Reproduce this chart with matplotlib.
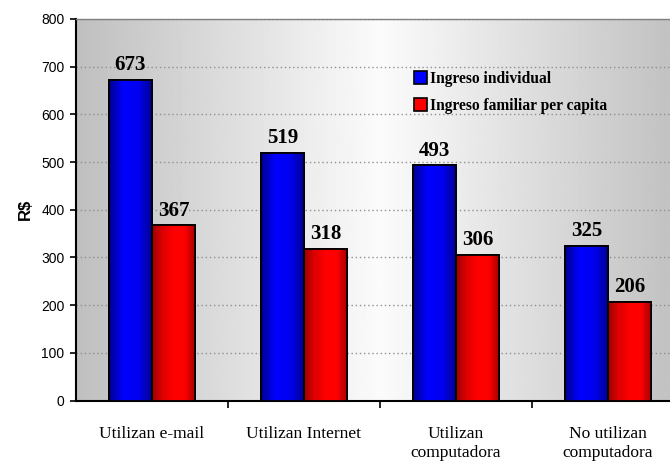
import numpy as np
import matplotlib
matplotlib.use("Agg")
import matplotlib.pyplot as plt
from matplotlib.colors import LinearSegmentedColormap
from matplotlib.patches import Patch

categories = ["Utilizan e-mail", "Utilizan Internet", "Utilizan\ncomputadora", "No utilizan\ncomputadora"]
ingreso_individual = [673, 519, 493, 325]
ingreso_familiar = [367, 318, 306, 206]
series_names = ["Ingreso individual", "Ingreso familiar per capita"]
yticks = [0, 100, 200, 300, 400, 500, 600, 700, 800]

fig = plt.figure(figsize=(6.7, 4.63), dpi=100)
ax = fig.add_axes([76/670, 1-400.5/463, 608/670, 381.5/463])

x = np.arange(len(categories))
w = 0.285

# background gradient (gray edges, white center)
t = np.linspace(-1, 1, 400)
bg = 0.985 - 0.235*np.abs(t)
bg = np.tile(bg, (2, 1))
ax.imshow(bg, extent=[-0.5, 3.5, 0, 800], aspect='auto', cmap='gray',
          vmin=0, vmax=1, zorder=0, interpolation='bilinear')

ax.set_axisbelow(True)
ax.yaxis.grid(True, linestyle=(0, (1, 2)), color='#909090', linewidth=1.0, zorder=1)

blue_cmap = LinearSegmentedColormap.from_list('b', ['#000090', '#0000ff', '#0000f0', '#000090'])
red_cmap = LinearSegmentedColormap.from_list('r', ['#a00000', '#e00000', '#ff0000', '#ff0000', '#a00000'])

b1 = ax.bar(x - w/2, ingreso_individual, width=w, color='#0000e0', edgecolor='black', linewidth=1.3, zorder=3)
b2 = ax.bar(x + w/2, ingreso_familiar, width=w, color='#e00000', edgecolor='black', linewidth=1.3, zorder=3)

grad = np.tile(np.linspace(0, 1, 100), (2, 1))
for bars, cm in ((b1, blue_cmap), (b2, red_cmap)):
    for p in bars:
        bx, by = p.get_x(), p.get_y()
        bw, bh = p.get_width(), p.get_height()
        im = ax.imshow(grad, extent=[bx, bx+bw, by, by+bh], aspect='auto', cmap=cm,
                       zorder=3.1, interpolation='bilinear')
        im.set_clip_path(p)
        ax.add_patch(plt.Rectangle((bx, by), bw, bh, fill=False, edgecolor='black',
                                   linewidth=1.3, zorder=3.2))

for bars, vals in ((b1, ingreso_individual), (b2, ingreso_familiar)):
    for p, v in zip(bars, vals):
        ax.text(p.get_x() + p.get_width()/2, v + 10, f"{v}", ha='center', va='bottom',
                fontsize=15, fontweight='bold', family='Liberation Serif', zorder=5)

ax.set_xlim(-0.5, 3.5)
ax.set_ylim(0, 800)
ax.set_yticks(yticks)
ax.set_yticklabels([str(v) for v in yticks], family='Liberation Sans', fontsize=10)
ax.set_xticks(x)
ax.set_xticklabels(categories, family='Liberation Serif', fontsize=12.5, va='top',
                   linespacing=1.2)
ax.tick_params(axis='x', which='major', length=0, pad=18.5)
ax.set_xticks(x[:-1] + 0.5, minor=True)
ax.tick_params(axis='x', which='minor', length=5, width=1.2, direction='out')
ax.tick_params(axis='y', length=4.3, width=1.2, direction='out', pad=4)

for s in ('left', 'bottom'):
    ax.spines[s].set_linewidth(1.5)
    ax.spines[s].set_color('black')
ax.spines['top'].set_color('#808080')
ax.spines['top'].set_linewidth(1.0)
ax.spines['right'].set_visible(False)

ax.set_ylabel("R$", family='Liberation Sans', fontsize=12, fontweight='bold')
ax.yaxis.set_label_coords(-0.071, 0.5)

handles = [Patch(facecolor='#0000ff', edgecolor='black', linewidth=1.2),
           Patch(facecolor='#ff0000', edgecolor='black', linewidth=1.2)]
leg = fig.legend(handles, series_names, loc='upper left', bbox_to_anchor=(414/670, 1-71/463),
                 frameon=False, handlelength=0.85, handleheight=0.85, handletextpad=0.15,
                 labelspacing=0.7, borderpad=0, borderaxespad=0,
                 prop={'family': 'Liberation Serif', 'weight': 'bold', 'size': 11.2})

fig.savefig("out.png", dpi=100)
